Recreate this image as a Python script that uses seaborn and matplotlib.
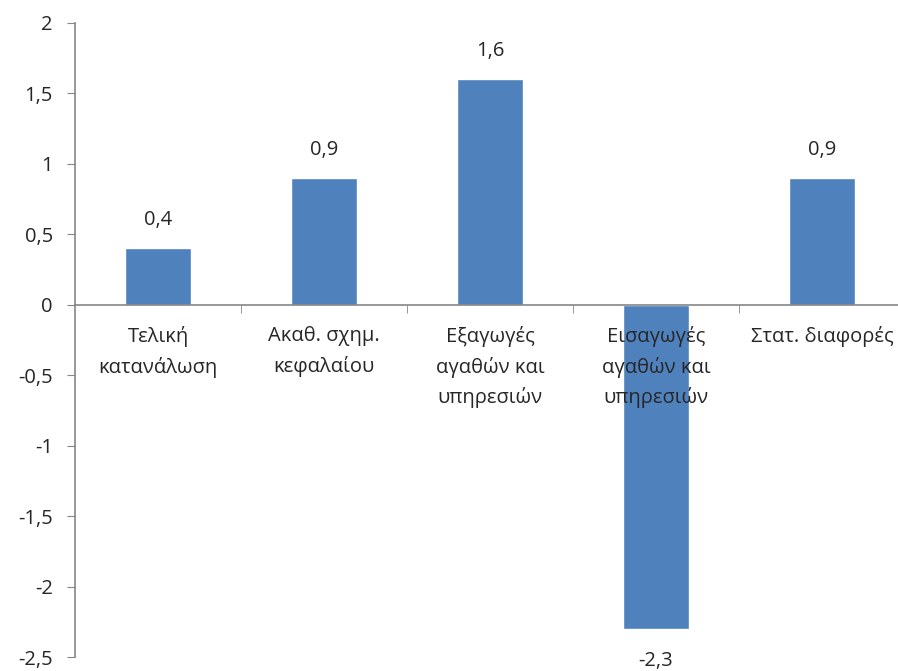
import pandas as pd
import seaborn as sns
import matplotlib.pyplot as plt
from matplotlib.ticker import FuncFormatter, FixedLocator

categories = ["Τελική\nκατανάλωση", "Ακαθ. σχημ.\nκεφαλαίου", "Εξαγωγές\nαγαθών και\nυπηρεσιών",
              "Εισαγωγές\nαγαθών και\nυπηρεσιών", "Στατ. διαφορές"]
values = [0.4, 0.9, 1.6, -2.3, 0.9]
y_ticks = [-2.5, -2, -1.5, -1, -0.5, 0, 0.5, 1, 1.5, 2]

def comma(v, pos=None):
    s = f"{v:g}"
    return s.replace(".", ",")

df = pd.DataFrame({"cat": categories, "val": values})

sns.set_style("white")
plt.rcParams["font.family"] = ["Open Sans", "DejaVu Sans"]

fig = plt.figure(figsize=(8.98, 6.71), dpi=100)
ax = fig.add_axes([75 / 898, 14 / 671, 830 / 898, 634 / 671])

sns.barplot(data=df, x="cat", y="val", color="#4F81BD", saturation=1, width=0.4, ax=ax)
ax.set_axisbelow(False)

ax.set_xlim(-0.5, 4.5)
ax.set_ylim(-2.5, 2)
ax.set_yticks(y_ticks)
ax.yaxis.set_major_formatter(FuncFormatter(comma))
ax.set_xlabel("")
ax.set_ylabel("")

# category axis crosses at zero
ax.spines["bottom"].set_position(("data", 0))
for side in ["top", "right"]:
    ax.spines[side].set_visible(False)
for side in ["left", "bottom"]:
    ax.spines[side].set_color("#868686")
    ax.spines[side].set_linewidth(1.2)

ax.tick_params(axis="y", which="major", direction="out", length=6, color="#868686",
               labelsize=14.5, pad=10, left=True)
ax.tick_params(axis="x", which="major", length=0, labelsize=14.5, pad=15)
ax.xaxis.set_minor_locator(FixedLocator([0.5, 1.5, 2.5, 3.5]))
ax.tick_params(axis="x", which="minor", direction="out", length=6, color="#868686", bottom=True)
for lbl in ax.get_xticklabels():
    lbl.set_verticalalignment("top")
    lbl.set_linespacing(1.62)

for i, v in enumerate(values):
    off = 0.2 if v > 0 else -0.23
    ax.text(i, v + off, comma(v), ha="center", va="center", fontsize=14.5)

fig.savefig("out.png", dpi=100)
